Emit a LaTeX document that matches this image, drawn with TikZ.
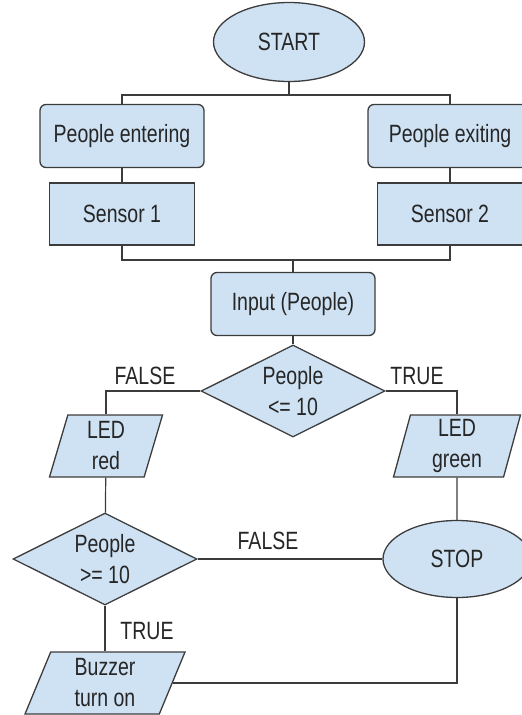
\documentclass[tikz,border=0pt]{standalone}
\usepackage{fontspec}
\setmainfont{Liberation Sans}[FakeStretch=0.78]
\usetikzlibrary{shapes.geometric}
\definecolor{boxblue}{HTML}{CFE2F3}
\definecolor{edge}{HTML}{3C3C3C}

\begin{document}
\begin{tikzpicture}[x=1pt, y=-1pt,
  every node/.style={font=\fontsize{25}{31}\selectfont, text=black!85},
  terminal/.style={ellipse, draw=edge, fill=boxblue, line width=1.3pt, minimum width=151pt, minimum height=79pt, inner sep=0pt},
  stepbox/.style={rectangle, rounded corners=6pt, draw=edge, fill=boxblue, line width=1.3pt, minimum width=164pt, minimum height=63pt},
  sensorbox/.style={rectangle, draw=edge, fill=boxblue, line width=1.3pt, minimum width=145pt, minimum height=62pt},
  decision/.style={diamond, aspect=2, draw=edge, fill=boxblue, line width=1.3pt, minimum width=184pt, minimum height=92pt, inner sep=1pt, align=center},
  io/.style={trapezium, trapezium left angle=70, trapezium right angle=110, trapezium stretches body, draw=edge, fill=boxblue, line width=1.3pt, minimum height=62pt, inner sep=1pt, align=center},
  branch/.style={font=\fontsize{25}{30}\selectfont, anchor=base},
  link/.style={draw=edge, line width=1.2pt}]

\clip (0,0) rectangle (522,715);

% start and the two counters
\node[terminal] (start) at (289,42) {START};
\node[stepbox] (enter) at (122,136) {People entering};
\node[stepbox] (exit) at (450,136) {People exiting};
\node[sensorbox] (s1) at (122,214) {Sensor 1};
\node[sensorbox] (s2) at (450,214) {Sensor 2};

% input and first test
\node[stepbox] (input) at (293,304) {Input (People)};
\node[decision] (q1) at (293,391) {People\\<= 10};
\node[io, minimum width=113pt] (ledr) at (106,446) {LED\\red};
\node[io, minimum width=127pt, trapezium left angle=73, trapezium right angle=107] (ledg) at (457,446) {LED\\green};

% second test, buzzer, stop
\node[decision] (q2) at (105,559) {People\\>= 10};
\node[terminal, minimum width=148pt, minimum height=77pt] (stop) at (457,559) {STOP};
\node[io, minimum width=160pt, trapezium left angle=63, trapezium right angle=117] (buzz) at (105,683) {Buzzer\\turn on};

\node[branch] (f1) at (145,384) {FALSE};
\node[branch] (t1) at (417,384) {TRUE};
\node[branch] (f2) at (268,549) {FALSE};
\node[branch] (t2) at (147,639) {TRUE};

\coordinate (top) at (289,95);
\coordinate (mid) at (293,260);

\draw[link] (start) -- (top);
\draw[link] (enter.north) |- (top) -| (exit.north);
\draw[link] (enter) -- (s1);
\draw[link] (exit) -- (s2);
\draw[link] (s1.south) |- (mid) -| (s2.south);
\draw[link] (mid) -- (input);
\draw[link] (input) -- (q1);
\draw[link] (q1.west) -| (ledr.north);
\draw[link] (q1.east) -| (ledg.north);
\draw[link] (ledr) -- (q2);
\draw[link] (q2) -- (stop);
\draw[link] (ledg) -- (stop);
\draw[link] (q2) -- (buzz);
\draw[link] (stop.south) |- (buzz.east);

\end{tikzpicture}
\end{document}
